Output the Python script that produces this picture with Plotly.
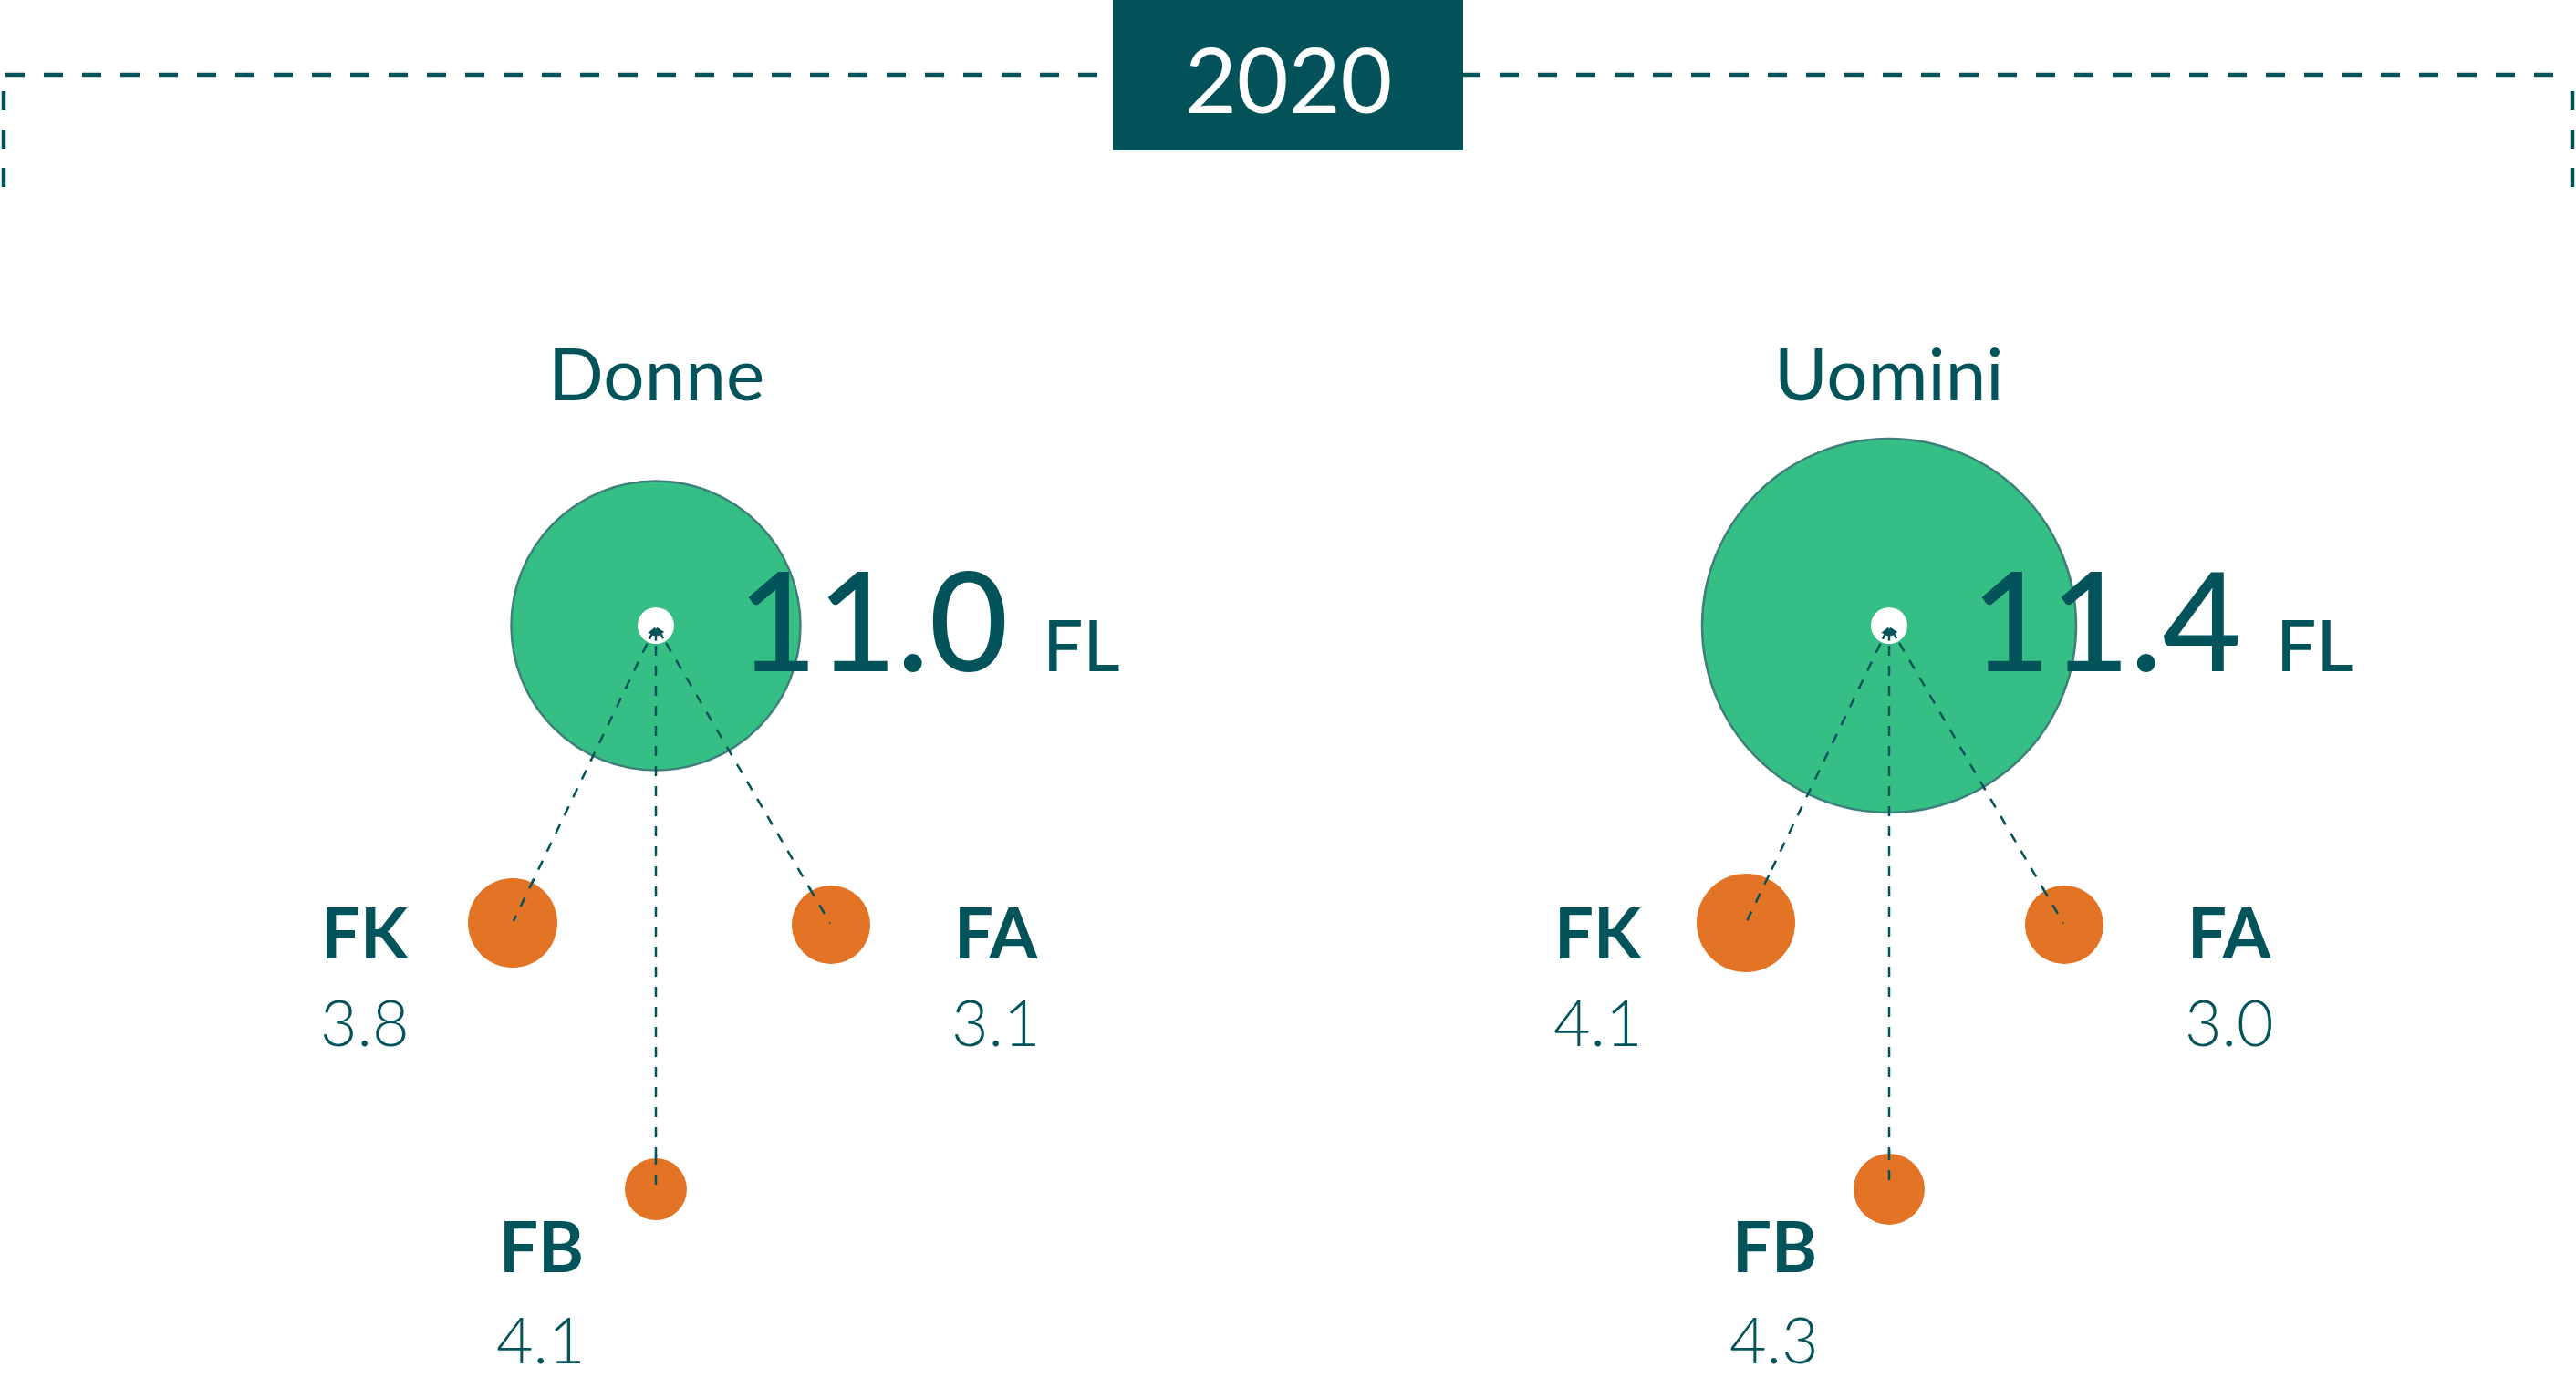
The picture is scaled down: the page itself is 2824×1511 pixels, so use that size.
import plotly.graph_objects as go

# ---------------- data ----------------
year_label = "2020"
groups = ["Donne", "Uomini"]
totals = [11.0, 11.4]
total_unit = "FL"
components = ["FK", "FB", "FA"]
donne_values = [3.8, 4.1, 3.1]
uomini_values = [4.1, 4.3, 3.0]
group_values = [donne_values, uomini_values]

# ---------------- layout constants ----------------
W, H = 2824, 1511
TEAL = "#02535A"
GREEN = "#35BF85"
GREEN_LINE = "#3D7F7B"
ORANGE = "#E37426"
FONT = "Lato"

group_cx = [719, 2071]
group_cy = 686
big_diam = [317, 410]
small_diam = [[98, 68, 86], [108, 78, 86]]
comp_dx = [-157, 0, 192]
comp_dy = [326, 618, 328]
label_dx = [-319, -126, 373]
label_name_dy = [335, 679, 335]
label_val_dy = [434, 782, 434]

fig = go.Figure()

# big circles
for g, cx in enumerate(group_cx):
    fig.add_trace(go.Scatter(
        x=[cx], y=[group_cy], mode="markers",
        marker=dict(size=big_diam[g], color=GREEN, opacity=1,
                    line=dict(color=GREEN_LINE, width=2.5)),
        hoverinfo="skip", showlegend=False))

# dashed connectors
for g, cx in enumerate(group_cx):
    for k in range(len(components)):
        fig.add_trace(go.Scatter(
            x=[cx, cx + comp_dx[k]], y=[group_cy, group_cy + comp_dy[k]],
            mode="lines", line=dict(color=TEAL, width=2.5, dash="11px,11px"),
            hoverinfo="skip", showlegend=False))

# small orange circles
for g, cx in enumerate(group_cx):
    fig.add_trace(go.Scatter(
        x=[cx + d for d in comp_dx], y=[group_cy + d for d in comp_dy], mode="markers",
        marker=dict(size=small_diam[g], color=ORANGE, opacity=1, line=dict(width=0)),
        hoverinfo="skip", showlegend=False))

# connector tails above orange circles
for g, cx in enumerate(group_cx):
    for k in range(len(components)):
        x1, y1 = cx + comp_dx[k], group_cy + comp_dy[k]
        L = (comp_dx[k] ** 2 + comp_dy[k] ** 2) ** 0.5
        r = small_diam[g][k] / 2
        fx, fy = comp_dx[k] / L, comp_dy[k] / L
        fig.add_trace(go.Scatter(
            x=[x1 - fx * (r + 4), x1 - fx * 2],
            y=[y1 - fy * (r + 4), y1 - fy * 2],
            mode="lines", line=dict(color=TEAL, width=2.5, dash="11px,11px"),
            hoverinfo="skip", showlegend=False))

# white centre dots
fig.add_trace(go.Scatter(
    x=group_cx, y=[group_cy] * len(group_cx), mode="markers",
    marker=dict(size=40, color="white", opacity=1, line=dict(width=0)),
    hoverinfo="skip", showlegend=False))

annotations = []
# tiny arrowheads in the centre
for g, cx in enumerate(group_cx):
    for k in range(len(components)):
        L = (comp_dx[k] ** 2 + comp_dy[k] ** 2) ** 0.5
        annotations.append(dict(
            x=cx, y=group_cy, ax=cx + comp_dx[k] / L * 18, ay=group_cy + comp_dy[k] / L * 18,
            xref="x", yref="y", axref="x", ayref="y", text="", showarrow=True,
            arrowhead=2, arrowsize=0.7, arrowwidth=2.5, arrowcolor=TEAL, standoff=2))

for g, cx in enumerate(group_cx):
    annotations.append(dict(
        x=cx, y=408, xref="x", yref="y", text=groups[g], showarrow=False,
        xanchor="center", yanchor="middle",
        font=dict(family=FONT, size=80, color=TEAL, weight=400)))
    annotations.append(dict(
        x=cx + 88, y=678, xref="x", yref="y",
        text=f"{totals[g]:.1f}&nbsp;<span style='font-size:78px'>{total_unit}</span>",
        showarrow=False, xanchor="left", yanchor="middle",
        font=dict(family=FONT, size=150, color=TEAL, weight=500)))
    for k, comp in enumerate(components):
        annotations.append(dict(
            x=cx + label_dx[k], y=group_cy + label_name_dy[k], xref="x", yref="y",
            text=f"<b>{comp}</b>", showarrow=False, xanchor="center", yanchor="middle",
            font=dict(family=FONT, size=76, color=TEAL, weight=900)))
        annotations.append(dict(
            x=cx + label_dx[k], y=group_cy + label_val_dy[k], xref="x", yref="y",
            text=f"{group_values[g][k]:.1f}", showarrow=False, xanchor="center", yanchor="middle",
            font=dict(family=FONT, size=70, color=TEAL, weight=300)))

annotations.append(dict(
    x=1412, y=86, xref="x", yref="y", text=year_label, showarrow=False,
    xanchor="center", yanchor="middle",
    font=dict(family=FONT, size=98, color="white", weight=400)))

shapes = [
    dict(type="line", x0=6, x1=2818, y0=82, y1=82, xref="x", yref="y",
         line=dict(color=TEAL, width=4.5, dash="21px,21px")),
    dict(type="line", x0=4, x1=4, y0=100, y1=205, xref="x", yref="y",
         line=dict(color=TEAL, width=4.5, dash="21px,21px")),
    dict(type="line", x0=2820, x1=2820, y0=100, y1=205, xref="x", yref="y",
         line=dict(color=TEAL, width=4.5, dash="21px,21px")),
    dict(type="rect", x0=1220, x1=1604, y0=0, y1=165, xref="x", yref="y",
         fillcolor="#03525A", line=dict(width=0)),
]

fig.update_layout(
    width=W, height=H, margin=dict(l=0, r=0, t=0, b=0),
    paper_bgcolor="white", plot_bgcolor="white",
    xaxis=dict(range=[0, W], visible=False, fixedrange=True),
    yaxis=dict(range=[H, 0], visible=False, fixedrange=True),
    annotations=annotations, shapes=shapes, showlegend=False,
)

fig.write_html("out.html")
